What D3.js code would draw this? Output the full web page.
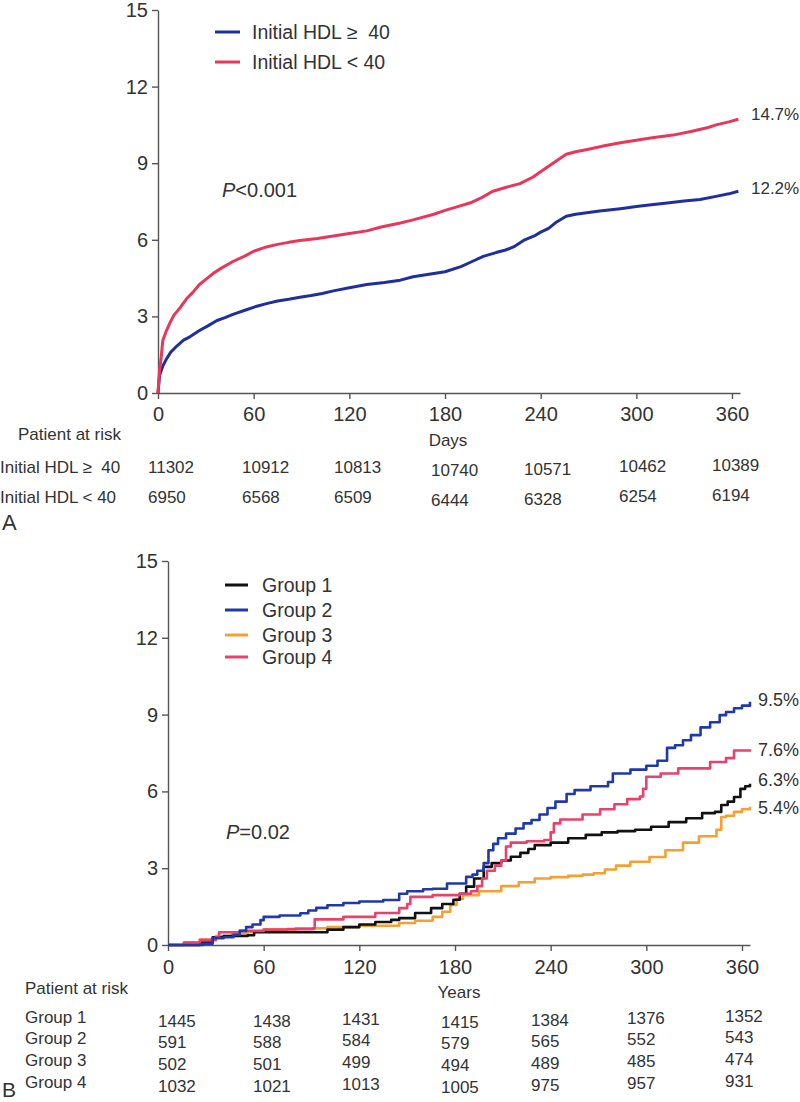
<!DOCTYPE html>
<html>
<head>
<meta charset="utf-8">
<script src="https://cdn.jsdelivr.net/npm/d3@7"></script>
<style>
  html, body { margin: 0; padding: 0; background: #fff; }
  svg { display: block; font-family: "Liberation Sans", Arial, sans-serif; }
</style>
</head>
<body>
<svg id="chart" width="800" height="1102"></svg>
<script>
// ---------------- DATA ----------------
const xTicks = [0, 60, 120, 180, 240, 300, 360];
const yTicks = [0, 3, 6, 9, 12, 15];

// Panel A
const seriesA = ["Initial HDL \u2265\u00A0 40", "Initial HDL < 40"];
const daysHighHDL = [0,1,3,5,8,12,16,20,26,31,37,42,47,55,62,68,75,82,89,96,103,110,120,131,142,152,160,170,180,190,197,204,212,218,223,230,236,240,245,250,256,262,270,277,290,300,308,318,330,340,350,358,364];
const valsHighHDL = [0,0.7,1.05,1.3,1.6,1.85,2.07,2.2,2.45,2.62,2.84,2.95,3.08,3.25,3.4,3.5,3.6,3.67,3.75,3.82,3.9,4.0,4.12,4.25,4.33,4.42,4.55,4.65,4.75,4.95,5.15,5.35,5.5,5.6,5.72,6.0,6.15,6.3,6.45,6.7,6.92,7.0,7.07,7.13,7.22,7.3,7.36,7.43,7.52,7.58,7.7,7.8,7.9];
const daysLowHDL = [0,1,2,3,5,7.5,10,14,18,22,26,30,35,40,47,54,60,68,75,82,89,100,110,120,131,140,152,160,173,180,188,196,203,210,218,227,235,242,250,256,262,270,280,290,300,310,323,335,345,350,358,364];
const valsLowHDL = [0,0.9,1.4,2.06,2.4,2.75,3.05,3.35,3.7,3.95,4.25,4.45,4.7,4.9,5.15,5.35,5.55,5.72,5.82,5.9,5.97,6.05,6.15,6.25,6.35,6.5,6.66,6.78,7.0,7.15,7.3,7.45,7.65,7.9,8.05,8.2,8.45,8.75,9.1,9.35,9.45,9.55,9.68,9.8,9.9,10.0,10.1,10.25,10.4,10.5,10.62,10.72];
const endLabelsA = ["12.2%", "14.7%"];
const pTextA = ["P", "<0.001"];
const riskA_high = ["11302","10912","10813","10740","10571","10462","10389"];
const riskA_low  = ["6950","6568","6509","6444","6328","6254","6194"];

// Panel B
const seriesB = ["Group 1", "Group 2", "Group 3", "Group 4"];
const daysG1 = [0,20,28,35,50,54,60,75,95,100,110,120,130,140,145,155,165,172,179,183,187,192,198,203,209,215,221,226,230,240,251,262,272,282,293,303,314,325,335,343,347,351,355,359,362,365];
const valsG1 = [0,0.1,0.3,0.35,0.38,0.5,0.5,0.5,0.5,0.6,0.7,0.8,0.9,0.98,1.05,1.25,1.44,1.6,1.77,2.0,2.28,2.6,3.05,3.2,3.3,3.45,3.6,3.75,3.9,4.0,4.17,4.3,4.4,4.45,4.5,4.62,4.8,4.95,5.15,5.2,5.47,5.6,5.78,6.1,6.2,6.3];
const daysG2 = [0,22,28,35,41,45,49,53,58,60,70,83,88,93,100,110,120,135,145,150,160,166,175,187,191,194,198,201,204,207,212,218,223,228,233,238,243,250,255,265,276,279,290,300,307,313,318,323,328,334,340,346,350,355,360,365];
const valsG2 = [0,0.05,0.27,0.3,0.4,0.55,0.7,0.8,0.97,1.1,1.15,1.24,1.35,1.45,1.55,1.64,1.7,1.76,2.0,2.1,2.18,2.2,2.4,2.66,2.75,2.9,3.2,3.7,3.95,4.17,4.35,4.55,4.75,4.88,5.1,5.35,5.6,5.9,6.05,6.2,6.37,6.7,6.85,7.0,7.2,7.7,7.8,8.0,8.2,8.5,8.7,8.98,9.1,9.25,9.35,9.5];
const daysG3 = [0,10,20,30,40,50,60,80,100,120,145,155,166,172,177,181,185,195,209,220,230,240,251,260,267,274,281,290,302,312,323,333,344,347,350,355,360,365];
const valsG3 = [0,0.1,0.2,0.35,0.45,0.52,0.6,0.65,0.7,0.75,0.86,0.95,1.1,1.3,1.56,1.8,1.95,2.1,2.3,2.45,2.6,2.65,2.7,2.75,2.8,2.95,3.1,3.25,3.44,3.7,4.0,4.25,4.5,5.0,5.05,5.2,5.3,5.4];
const daysG4 = [0,10,20,30,32,45,60,75,91,92,110,130,145,150,152,166,183,190,194,197,200,205,209,212,215,225,236,240,242,246,260,271,280,288,296,298,300,309,320,340,350,355,358,365];
const valsG4 = [0,0.1,0.2,0.3,0.5,0.55,0.6,0.62,0.65,1.0,1.1,1.25,1.44,1.6,1.88,1.95,2.0,2.1,2.3,2.6,2.9,3.1,3.3,3.85,4.0,4.05,4.1,4.4,4.75,4.9,5.1,5.3,5.5,5.7,5.8,6.1,6.57,6.7,6.9,7.15,7.3,7.6,7.6,7.65];
const endLabelsB = ["6.3%", "9.5%", "5.4%", "7.6%"];
const pTextB = ["P", "=0.02"];
const riskB = [
  ["1445","1438","1431","1415","1384","1376","1352"],
  ["591","588","584","579","565","552","543"],
  ["502","501","499","494","489","485","474"],
  ["1032","1021","1013","1005","975","957","931"]
];

// ---------------- LAYOUT / STYLE ----------------
const TXT = "#333";
const AXC = "#555";
const colsA = { high: "#1f2f9e", low: "#e8375a" };
const colsB = ["#111111", "#1f3aa8", "#f5a031", "#e8416a"];

const svg = d3.select("#chart");

function zip(ds, vs) { return ds.map((d, i) => ({ d: d, v: vs[i] })); }

function drawAxes(g, x, y, xPad) {
  const ya = d3.axisLeft(y).tickValues(yTicks).tickSize(6).tickSizeOuter(0).tickPadding(4);
  const xa = d3.axisBottom(x).tickValues(xTicks).tickSize(6).tickSizeOuter(0).tickPadding(xPad);
  const gy = g.append("g").attr("transform", `translate(${x(0)},0)`).call(ya);
  const gx = g.append("g").attr("transform", `translate(0,${y(0)})`).call(xa);
  [gx, gy].forEach(a => {
    a.selectAll("path, line").attr("stroke", AXC).attr("stroke-width", 1.4);
    a.selectAll("text").attr("fill", TXT).attr("font-size", 20)
      .attr("font-family", "'Liberation Sans', Arial, sans-serif");
  });
}

function pLabel(g, px, py, parts) {
  const t = g.append("text").attr("x", px).attr("y", py).attr("dy", "0.35em")
    .attr("font-size", 20).attr("fill", TXT);
  t.append("tspan").attr("font-style", "italic").text(parts[0]);
  t.append("tspan").text(parts[1]);
}

function txt(g, x, y, s, size, anchor) {
  g.append("text").attr("x", x).attr("y", y).attr("font-size", size || 17)
    .attr("fill", TXT).attr("text-anchor", anchor || "start").text(s);
}

// ---------------- PANEL A ----------------
{
  const g = svg.append("g");
  const x = d3.scaleLinear().domain([0, 365]).range([158, 158 + 365 * 574 / 360]);
  const y = d3.scaleLinear().domain([0, 15]).range([393, 10]);
  drawAxes(g, x, y, 8);

  const line = d3.line().x(p => x(p.d)).y(p => y(p.v)).curve(d3.curveLinear);
  const sA = [
    { data: zip(daysHighHDL, valsHighHDL), color: colsA.high, label: endLabelsA[0], dy: -3 },
    { data: zip(daysLowHDL, valsLowHDL), color: colsA.low, label: endLabelsA[1], dy: -5 }
  ];
  sA.forEach(s => {
    g.append("path").datum(s.data).attr("d", line).attr("fill", "none")
      .attr("stroke", s.color).attr("stroke-width", 3).attr("stroke-linejoin", "round");
    const last = s.data[s.data.length - 1];
    g.append("text").attr("x", x(365) + 11).attr("y", y(last.v) + s.dy).attr("dy", "0.35em")
      .attr("font-size", 17).attr("fill", TXT).text(s.label);
  });

  // legend
  seriesA.forEach((name, i) => {
    const ly = 32 + i * 30;
    g.append("line").attr("x1", 215).attr("x2", 240).attr("y1", ly).attr("y2", ly)
      .attr("stroke", i === 0 ? colsA.high : colsA.low).attr("stroke-width", 3);
    g.append("text").attr("x", 252).attr("y", ly).attr("dy", "0.35em")
      .attr("font-size", 19.5).attr("fill", TXT).text(name);
  });

  pLabel(g, 222, 190, pTextA);

  // risk table
  txt(g, 18, 440, "Patient at risk", 17);
  txt(g, 448, 446, "Days", 17, "middle");
  txt(g, 0, 473, seriesA[0], 17);
  txt(g, 0, 503, seriesA[1], 17);
  const colLeftA = [148, 242, 334, 431, 524, 619, 712];
  const colDyA = [0, 0, 0, 3, 2, -1, -2];
  riskA_high.forEach((v, i) => txt(g, colLeftA[i], 473 + colDyA[i], v, 17));
  riskA_low.forEach((v, i) => txt(g, colLeftA[i], 503 + colDyA[i], v, 17));
  txt(g, 2, 530, "A", 22);
}

// ---------------- PANEL B ----------------
{
  const g = svg.append("g");
  const x = d3.scaleLinear().domain([0, 365]).range([168, 168 + 365 * 574 / 360]);
  const y = d3.scaleLinear().domain([0, 15]).range([945, 561]);
  drawAxes(g, x, y, 9);

  const line = d3.line().x(p => x(p.d)).y(p => y(p.v)).curve(d3.curveStepAfter);
  const dataB = [zip(daysG1, valsG1), zip(daysG2, valsG2), zip(daysG3, valsG3), zip(daysG4, valsG4)];
  const lblDy = [-4, -2, 1, 1];
  const order = [2, 0, 3, 1];
  order.forEach(i => {
    g.append("path").datum(dataB[i]).attr("d", line).attr("fill", "none")
      .attr("stroke", colsB[i]).attr("stroke-width", 2.6).attr("stroke-linejoin", "round");
  });
  dataB.forEach((d, i) => {
    const last = d[d.length - 1];
    g.append("text").attr("x", x(365) + 8).attr("y", y(last.v) + lblDy[i]).attr("dy", "0.35em")
      .attr("font-size", 18).attr("fill", TXT).text(endLabelsB[i]);
  });

  // legend
  const legY = [585, 610, 635, 657];
  seriesB.forEach((name, i) => {
    g.append("line").attr("x1", 225).attr("x2", 248).attr("y1", legY[i]).attr("y2", legY[i])
      .attr("stroke", colsB[i]).attr("stroke-width", 3);
    g.append("text").attr("x", 262).attr("y", legY[i]).attr("dy", "0.35em")
      .attr("font-size", 19.5).attr("fill", TXT).text(name);
  });

  pLabel(g, 226, 832, pTextB);

  // risk table
  txt(g, 25, 994, "Patient at risk", 17);
  txt(g, 459, 998, "Years", 17, "middle");
  const rowY = [1023, 1044, 1066, 1088];
  const colLeftB = [158, 253, 342, 441, 531, 627, 725];
  const colDyB = [2, 2, 0, 3, 1, -1, -3];
  seriesB.forEach((name, r) => {
    txt(g, 25, rowY[r], name, 17);
    riskB[r].forEach((v, i) => txt(g, colLeftB[i], rowY[r] + 2 + colDyB[i], v, 17));
  });
  txt(g, 2, 1097, "B", 21);
}
</script>
</body>
</html>
